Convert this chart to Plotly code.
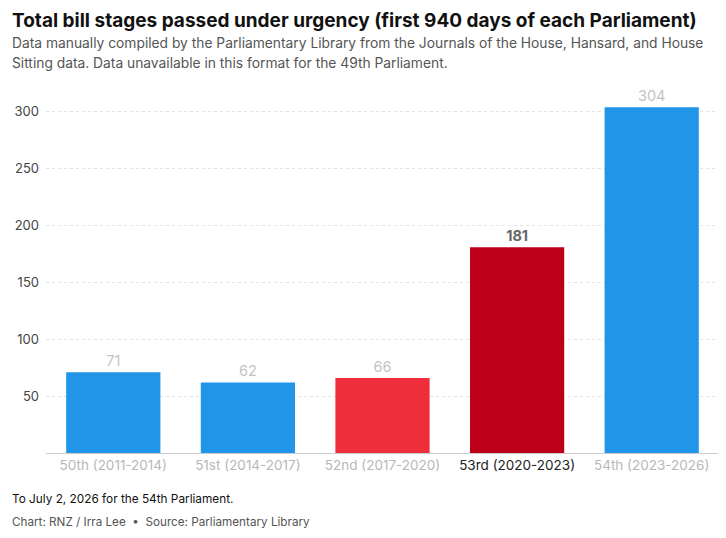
import plotly.graph_objects as go

# Data
parliaments = ['50th (2011-2014)', '51st (2014-2017)', '52nd (2017-2020)',
               '53rd (2020-2023)', '54th (2023-2026)']
urgency_stages = [71, 62, 66, 181, 304]
bar_colors = ['#2196e8', '#2196e8', '#ee2e3a', '#bb0017', '#2196e8']
highlight = '53rd (2020-2023)'

FONT = 'Inter'

labels = [f'<b>{v}</b>' if p == highlight else str(v)
          for p, v in zip(parliaments, urgency_stages)]
label_colors = ['#666666' if p == highlight else '#c4c4c4' for p in parliaments]
tick_text = [f'<span style="color:#222222">{p}</span>' if p == highlight
             else f'<span style="color:#b8b8b8">{p}</span>' for p in parliaments]

# page has a body margin, so the figure is a bit smaller than the window
W, H = 718, 530
L, R, T, B = 35, 7, 72, 85

fig = go.Figure()
fig.add_trace(go.Bar(
    x=parliaments,
    y=urgency_stages,
    marker=dict(color=bar_colors, line=dict(width=0)),
    text=labels,
    textposition='outside',
    textfont=dict(family=FONT, size=14.5, color=label_colors),
    cliponaxis=False,
    hoverinfo='skip',
))

fig.update_layout(
    width=W, height=H,
    margin=dict(l=L, r=R, t=T, b=B),
    paper_bgcolor='white', plot_bgcolor='white',
    font=dict(family=FONT, color='#444444'),
    bargap=0.3,
    showlegend=False,
    xaxis=dict(
        tickvals=parliaments, ticktext=tick_text,
        tickfont=dict(size=13.5), showline=True, linecolor='#cccccc', linewidth=1,
        showgrid=False, ticks='',
    ),
    yaxis=dict(
        range=[0, 328], tickvals=[50, 100, 150, 200, 250, 300],
        tickfont=dict(size=13, color='#444444'),
        showgrid=True, gridcolor='#e2e2e2', griddash='dot', gridwidth=1,
        zeroline=False, ticks='', ticklabelstandoff=6,
    ),
)

plot_w = W - L - R
plot_h = H - T - B
texts = [
    ('Total bill stages passed under urgency (first 940 days of each Parliament)',
     13, 19, '#111111', 700),
    ('Data manually compiled by the Parliamentary Library from the Journals of the House, Hansard, and House',
     35, 13.8, '#555555', 400),
    ('Sitting data. Data unavailable in this format for the 49th Parliament.',
     55, 13.8, '#555555', 400),
    ('To July 2, 2026 for the 54th Parliament.', 491, 11.8, '#111111', 400),
    ('Chart: RNZ / Irra Lee  •  Source: Parliamentary Library', 514, 11.7, '#555555', 400),
]
for txt, ypix, size, color, weight in texts:
    fig.add_annotation(
        text=txt, xref='paper', yref='paper',
        x=(0 - L) / plot_w, y=(H - B - ypix) / plot_h,
        xanchor='left', yanchor='middle', showarrow=False, borderpad=0,
        font=dict(family=FONT, size=size, color=color, weight=weight),
    )

fig.write_html('out.html')
